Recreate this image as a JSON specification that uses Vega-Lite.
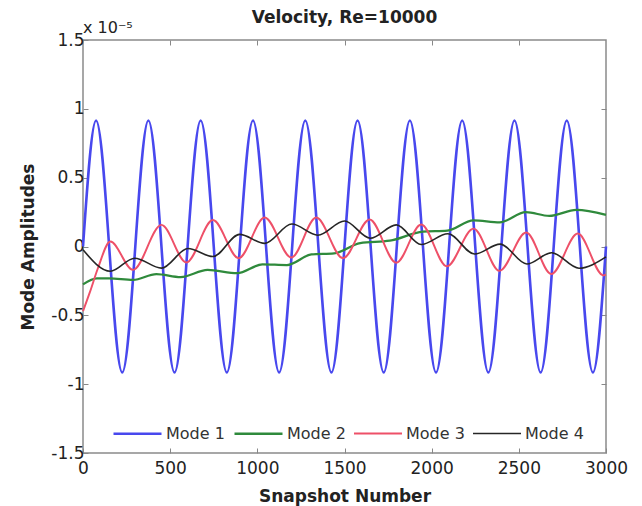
{
  "$schema": "https://vega.github.io/schema/vega-lite/v6.json",
  "width": 523,
  "height": 413,
  "autosize": {"type": "none"},
  "padding": {"left": 83, "top": 40, "right": 36, "bottom": 53},
  "background": "white",
  "title": {"text": "Velocity, Re=10000", "font": "DejaVu Sans", "fontSize": 17, "fontWeight": "bold", "color": "#222222", "offset": 14, "dy": 21, "anchor": "middle"},
  "config": {
    "view": {"stroke": "#8a8a8a", "strokeWidth": 1.5},
    "axis": {"grid": false, "domain": false, "tickColor": "#888888", "tickSize": -5, "tickWidth": 1, "labelFont": "DejaVu Sans", "labelFontSize": 17, "labelColor": "#222222", "labelFlush": false, "labelOverlap": false, "labelBound": false, "titleFont": "DejaVu Sans", "titleFontSize": 17, "titleFontWeight": "bold", "titleColor": "#222222"}
  },
  "data": {"values": [
    {"mode": "Mode 1", "snapshot": 0, "amplitude": 0},
    {"mode": "Mode 1", "snapshot": 75, "amplitude": 0.915},
    {"mode": "Mode 1", "snapshot": 225, "amplitude": -0.915},
    {"mode": "Mode 1", "snapshot": 375, "amplitude": 0.915},
    {"mode": "Mode 1", "snapshot": 525, "amplitude": -0.915},
    {"mode": "Mode 1", "snapshot": 675, "amplitude": 0.915},
    {"mode": "Mode 1", "snapshot": 825, "amplitude": -0.915},
    {"mode": "Mode 1", "snapshot": 975, "amplitude": 0.915},
    {"mode": "Mode 1", "snapshot": 1125, "amplitude": -0.915},
    {"mode": "Mode 1", "snapshot": 1275, "amplitude": 0.915},
    {"mode": "Mode 1", "snapshot": 1425, "amplitude": -0.915},
    {"mode": "Mode 1", "snapshot": 1575, "amplitude": 0.915},
    {"mode": "Mode 1", "snapshot": 1725, "amplitude": -0.915},
    {"mode": "Mode 1", "snapshot": 1875, "amplitude": 0.915},
    {"mode": "Mode 1", "snapshot": 2025, "amplitude": -0.915},
    {"mode": "Mode 1", "snapshot": 2175, "amplitude": 0.915},
    {"mode": "Mode 1", "snapshot": 2325, "amplitude": -0.915},
    {"mode": "Mode 1", "snapshot": 2475, "amplitude": 0.915},
    {"mode": "Mode 1", "snapshot": 2625, "amplitude": -0.915},
    {"mode": "Mode 1", "snapshot": 2775, "amplitude": 0.915},
    {"mode": "Mode 1", "snapshot": 2925, "amplitude": -0.915},
    {"mode": "Mode 1", "snapshot": 3000, "amplitude": 0},

    {"mode": "Mode 2", "snapshot": 0, "amplitude": -0.275},
    {"mode": "Mode 2", "snapshot": 80, "amplitude": -0.232},
    {"mode": "Mode 2", "snapshot": 150, "amplitude": -0.232},
    {"mode": "Mode 2", "snapshot": 287, "amplitude": -0.243},
    {"mode": "Mode 2", "snapshot": 421, "amplitude": -0.2},
    {"mode": "Mode 2", "snapshot": 560, "amplitude": -0.222},
    {"mode": "Mode 2", "snapshot": 715, "amplitude": -0.17},
    {"mode": "Mode 2", "snapshot": 885, "amplitude": -0.194},
    {"mode": "Mode 2", "snapshot": 1030, "amplitude": -0.13},
    {"mode": "Mode 2", "snapshot": 1170, "amplitude": -0.135},
    {"mode": "Mode 2", "snapshot": 1310, "amplitude": -0.058},
    {"mode": "Mode 2", "snapshot": 1440, "amplitude": -0.05},
    {"mode": "Mode 2", "snapshot": 1590, "amplitude": 0.025},
    {"mode": "Mode 2", "snapshot": 1760, "amplitude": 0.042},
    {"mode": "Mode 2", "snapshot": 1950, "amplitude": 0.108},
    {"mode": "Mode 2", "snapshot": 2090, "amplitude": 0.115},
    {"mode": "Mode 2", "snapshot": 2240, "amplitude": 0.19},
    {"mode": "Mode 2", "snapshot": 2390, "amplitude": 0.176},
    {"mode": "Mode 2", "snapshot": 2540, "amplitude": 0.25},
    {"mode": "Mode 2", "snapshot": 2675, "amplitude": 0.222},
    {"mode": "Mode 2", "snapshot": 2830, "amplitude": 0.266},
    {"mode": "Mode 2", "snapshot": 3000, "amplitude": 0.23},

    {"mode": "Mode 3", "snapshot": 0, "amplitude": -0.47},
    {"mode": "Mode 3", "snapshot": 40, "amplitude": -0.33},
    {"mode": "Mode 3", "snapshot": 85, "amplitude": -0.16},
    {"mode": "Mode 3", "snapshot": 157, "amplitude": 0.036},
    {"mode": "Mode 3", "snapshot": 287, "amplitude": -0.17},
    {"mode": "Mode 3", "snapshot": 450, "amplitude": 0.157},
    {"mode": "Mode 3", "snapshot": 593, "amplitude": -0.116},
    {"mode": "Mode 3", "snapshot": 745, "amplitude": 0.192},
    {"mode": "Mode 3", "snapshot": 893, "amplitude": -0.085},
    {"mode": "Mode 3", "snapshot": 1042, "amplitude": 0.21},
    {"mode": "Mode 3", "snapshot": 1195, "amplitude": -0.08},
    {"mode": "Mode 3", "snapshot": 1338, "amplitude": 0.21},
    {"mode": "Mode 3", "snapshot": 1491, "amplitude": -0.085},
    {"mode": "Mode 3", "snapshot": 1644, "amplitude": 0.196},
    {"mode": "Mode 3", "snapshot": 1797, "amplitude": -0.118},
    {"mode": "Mode 3", "snapshot": 1940, "amplitude": 0.16},
    {"mode": "Mode 3", "snapshot": 2087, "amplitude": -0.144},
    {"mode": "Mode 3", "snapshot": 2240, "amplitude": 0.13},
    {"mode": "Mode 3", "snapshot": 2389, "amplitude": -0.177},
    {"mode": "Mode 3", "snapshot": 2542, "amplitude": 0.102},
    {"mode": "Mode 3", "snapshot": 2686, "amplitude": -0.2},
    {"mode": "Mode 3", "snapshot": 2838, "amplitude": 0.094},
    {"mode": "Mode 3", "snapshot": 2985, "amplitude": -0.21},
    {"mode": "Mode 3", "snapshot": 3000, "amplitude": -0.205},

    {"mode": "Mode 4", "snapshot": 0, "amplitude": -0.024},
    {"mode": "Mode 4", "snapshot": 157, "amplitude": -0.18},
    {"mode": "Mode 4", "snapshot": 296, "amplitude": -0.085},
    {"mode": "Mode 4", "snapshot": 450, "amplitude": -0.157},
    {"mode": "Mode 4", "snapshot": 602, "amplitude": -0.015},
    {"mode": "Mode 4", "snapshot": 745, "amplitude": -0.073},
    {"mode": "Mode 4", "snapshot": 898, "amplitude": 0.088},
    {"mode": "Mode 4", "snapshot": 1042, "amplitude": 0.023},
    {"mode": "Mode 4", "snapshot": 1198, "amplitude": 0.163},
    {"mode": "Mode 4", "snapshot": 1347, "amplitude": 0.082},
    {"mode": "Mode 4", "snapshot": 1500, "amplitude": 0.185},
    {"mode": "Mode 4", "snapshot": 1648, "amplitude": 0.06},
    {"mode": "Mode 4", "snapshot": 1797, "amplitude": 0.157},
    {"mode": "Mode 4", "snapshot": 1940, "amplitude": 0.015},
    {"mode": "Mode 4", "snapshot": 2093, "amplitude": 0.093},
    {"mode": "Mode 4", "snapshot": 2246, "amplitude": -0.055},
    {"mode": "Mode 4", "snapshot": 2393, "amplitude": 0.017},
    {"mode": "Mode 4", "snapshot": 2546, "amplitude": -0.127},
    {"mode": "Mode 4", "snapshot": 2688, "amplitude": -0.045},
    {"mode": "Mode 4", "snapshot": 2845, "amplitude": -0.158},
    {"mode": "Mode 4", "snapshot": 3000, "amplitude": -0.075}
  ]},
  "layer": [
    {
      "mark": {"type": "line", "interpolate": "monotone"},
      "encoding": {
        "x": {"field": "snapshot", "type": "quantitative", "scale": {"domain": [0, 3000], "nice": false, "zero": false},
          "axis": {"orient": "bottom", "values": [0, 500, 1000, 1500, 2000, 2500, 3000], "format": "d", "labelPadding": 12, "title": "Snapshot Number", "titleY": 48, "titleBaseline": "alphabetic"}},
        "y": {"field": "amplitude", "type": "quantitative", "scale": {"domain": [-1.5, 1.5], "nice": false, "zero": false},
          "axis": {"orient": "left", "values": [-1.5, -1, -0.5, 0, 0.5, 1, 1.5], "labelExpr": "toString(datum.value)", "labelPadding": 4, "title": "Mode Amplitudes", "titleX": -50, "titleY": 206.5, "titleAlign": "center", "titleBaseline": "alphabetic", "titleAngle": 270}},
        "color": {"field": "mode", "type": "nominal",
          "scale": {"domain": ["Mode 1", "Mode 2", "Mode 3", "Mode 4"], "range": ["#4848ee", "#2f8a3c", "#ee5068", "#262626"]},
          "legend": {"title": null, "orient": "none", "legendX": 29, "legendY": 368, "direction": "horizontal", "symbolType": "stroke", "symbolSize": 2304, "symbolStrokeWidth": 1.5, "labelFont": "DejaVu Sans", "labelFontSize": 16, "labelColor": "#333333", "labelOffset": 3, "columnPadding": 4, "padding": 0}},
        "strokeWidth": {"field": "mode", "type": "nominal", "scale": {"domain": ["Mode 1", "Mode 2", "Mode 3", "Mode 4"], "range": [2.6, 1.6, 2.4, 2]}, "legend": null}
      }
    },
    {
      "data": {"values": [{"note": "x 10⁻⁵"}]},
      "mark": {"type": "text", "align": "left", "baseline": "alphabetic", "dy": -7, "font": "DejaVu Sans", "fontSize": 16, "color": "#222222"},
      "encoding": {
        "text": {"field": "note", "type": "nominal"},
        "x": {"datum": 0, "type": "quantitative", "axis": {"orient": "top", "labels": false, "title": null, "values": [500, 1000, 1500, 2000, 2500]}},
        "y": {"datum": 1.5, "type": "quantitative", "axis": {"orient": "right", "labels": false, "title": null, "values": [-1, -0.5, 0, 0.5, 1]}}
      }
    }
  ],
  "resolve": {"axis": {"x": "independent", "y": "independent"}}
}
